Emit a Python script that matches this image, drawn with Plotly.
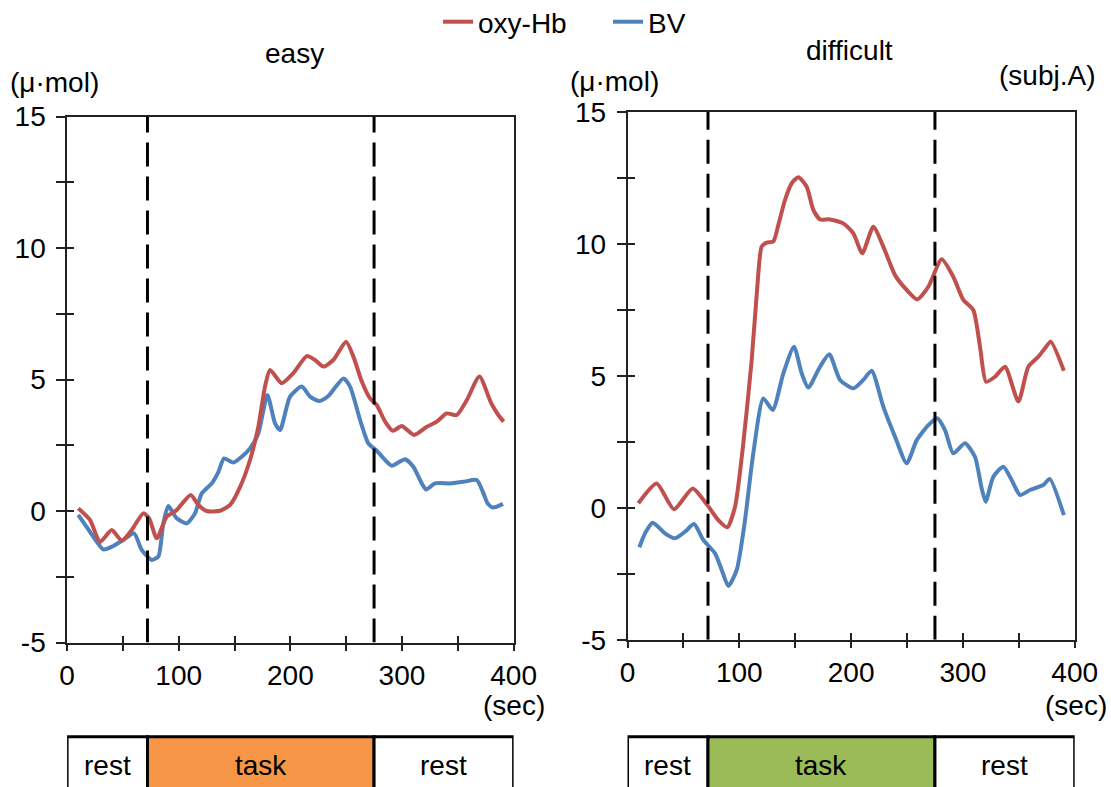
import plotly.graph_objects as go

# ---------------- data ----------------
easy_oxy_t = [10, 20.5, 29.5, 40, 48.9, 57.9, 68.3, 73.5, 80.3, 89.2, 98.2, 110.7, 117.6, 125, 137, 146, 155,
              163.9, 171.3, 177.3, 181.8, 192.3, 202.7, 214.7, 222.1, 229.6, 238.5, 249.9, 256.5, 264, 271.4,
              277.4, 284.9, 291.8, 299.8, 310.8, 322.2, 331.2, 340.1, 349.1, 358.1, 369.4, 379.9, 386.3, 391.1]
easy_oxy_v = [0.1, -0.34, -1.17, -0.72, -1.13, -0.72, -0.09, -0.28, -1.04, -0.22, 0.04, 0.61, 0.23, 0.0, 0.01,
              0.23, 0.92, 1.94, 3.2, 4.73, 5.36, 4.86, 5.24, 5.89, 5.74, 5.49, 5.74, 6.44, 5.87, 4.92, 4.28,
              4.03, 3.4, 3.05, 3.23, 2.89, 3.2, 3.4, 3.71, 3.65, 4.22, 5.11, 4.1, 3.65, 3.4]

easy_bv_t = [10, 20.5, 32.5, 41.4, 50.4, 60, 66.8, 75.8, 81.7, 86.2, 90.7, 98.2, 107.2, 114.6, 120.6, 129.6,
             135.6, 140.6, 148.9, 156.4, 163.9, 171.3, 179.4, 186.3, 190.8, 199.7, 210.2, 217.7, 226, 234,
             247.5, 253.5, 262.5, 269.9, 277.4, 284.9, 290.9, 302.8, 310.2, 317.7, 321.6, 329.7, 343.1, 355,
             367, 373, 376.7, 381.5, 390.5]
easy_bv_v = [-0.15, -0.79, -1.46, -1.33, -1.1, -0.85, -1.48, -1.86, -1.73, -0.47, 0.19, -0.28, -0.47, -0.09,
             0.67, 1.05, 1.49, 2.0, 1.84, 2.06, 2.38, 2.95, 4.41, 3.33, 3.08, 4.35, 4.73, 4.35, 4.18, 4.37,
             5.04, 4.73, 3.46, 2.57, 2.29, 1.94, 1.72, 1.97, 1.68, 1.05, 0.82, 1.05, 1.05, 1.11, 1.18, 0.67,
             0.29, 0.13, 0.27]

diff_oxy_t = [9.7, 26.1, 41.6, 58.3, 71.4, 81.2, 89.3, 96.2, 103.6, 111.1, 116.1, 120, 124.5, 130.4, 134.9,
              140.9, 146.9, 152.8, 160.3, 166.2, 172.2, 181.1, 193, 202, 210, 219.9, 228.8, 239.3, 249.7,
              259.2, 269.1, 281, 291.4, 300.4, 309.3, 315.3, 320.7, 328.7, 337.7, 349.6, 358.5, 367.5, 373.4,
              378.5, 390.3]
diff_oxy_v = [0.17, 0.92, -0.06, 0.73, 0.1, -0.47, -0.74, 0.04, 2.44, 5.6, 8.37, 9.89, 10.04, 10.08, 10.71,
              11.66, 12.29, 12.52, 12.16, 11.28, 10.92, 10.92, 10.77, 10.39, 9.64, 10.64, 9.89, 8.81, 8.25,
              7.89, 8.37, 9.41, 8.75, 7.87, 7.49, 6.1, 4.77, 4.96, 5.34, 4.02, 5.34, 5.72, 6.04, 6.29, 5.19]

diff_bv_t = [10.6, 15.7, 22.5, 33.5, 42.5, 51.4, 59.5, 67.8, 78.3, 84.3, 90.2, 97.7, 105.1, 112.5, 121.5,
             129.9, 139.4, 148.9, 155.8, 161.7, 172.2, 180.5, 190.1, 202, 210.9, 218.4, 228.8, 239.3, 249.7,
             258.7, 269.1, 277.1, 284, 291.4, 301.9, 310.8, 316.8, 320.4, 327.2, 336.1, 343.6, 351.1, 360,
             371.9, 377.6, 390.3]
diff_bv_v = [-1.5, -0.97, -0.57, -0.97, -1.16, -0.91, -0.62, -1.22, -1.73, -2.36, -2.97, -2.36, -0.47, 2.06,
             4.14, 3.7, 5.09, 6.1, 5.09, 4.55, 5.34, 5.81, 4.84, 4.52, 4.84, 5.19, 3.83, 2.69, 1.68, 2.56,
             3.13, 3.39, 2.94, 2.06, 2.44, 1.93, 0.73, 0.23, 1.17, 1.55, 1.05, 0.48, 0.67, 0.86, 1.09, -0.28]

panel_titles = ["easy", "difficult"]
series_names = ["oxy-Hb", "BV"]
phase_labels = ["rest", "task", "rest"]
phase_bounds = [0, 72, 275, 400]
task_colors = ["#F79646", "#9BBB59"]
x_ticks = [0, 50, 100, 150, 200, 250, 300, 350, 400]
x_ticktext = ["0", "", "100", "", "200", "", "300", "", "400"]
y_ticks = [-5, -2.5, 0, 2.5, 5, 7.5, 10, 12.5, 15]
y_ticktext = ["-5", "", "0", "", "5", "", "10", "", "15"]

RED = "#C0504D"
BLUE = "#4F81BD"
FONT = "Liberation Sans, Arial, sans-serif"
FS = 28
W, H = 1111, 787

fig = go.Figure()

panels = [
    dict(xa="x", ya="y", xo="x3", yo="y3", oxy=(easy_oxy_t, easy_oxy_v), bv=(easy_bv_t, easy_bv_v)),
    dict(xa="x2", ya="y2", xo="x4", yo="y4", oxy=(diff_oxy_t, diff_oxy_v), bv=(diff_bv_t, diff_bv_v)),
]

# oxy-Hb first (legend order), drawn on overlay axes so it sits on top of BV
for i, p in enumerate(panels):
    fig.add_trace(go.Scatter(x=p["oxy"][0], y=p["oxy"][1], mode="lines", name=series_names[0],
                             line=dict(color=RED, width=4, shape="spline", smoothing=0.6),
                             xaxis=p["xo"], yaxis=p["yo"], showlegend=(i == 0), legendgroup="oxy"))
for i, p in enumerate(panels):
    fig.add_trace(go.Scatter(x=p["bv"][0], y=p["bv"][1], mode="lines", name=series_names[1],
                             line=dict(color=BLUE, width=4, shape="spline", smoothing=0.6),
                             xaxis=p["xa"], yaxis=p["ya"], showlegend=(i == 0), legendgroup="bv"))

x_domains = [[67.1 / W, 513.6 / W], [627.5 / W, 1074.7 / W]]
y_domains = [[1 - 642.5 / H, 1 - 116.5 / H], [1 - 639.7 / H, 1 - 111.7 / H]]

AX = "#222222"
base_x = dict(range=[0, 400], tickmode="array", tickvals=x_ticks, showgrid=False, zeroline=False,
              tickfont=dict(family=FONT, size=FS, color="#000"), ticklen=7, tickwidth=1.5, tickcolor=AX)
base_y = dict(range=[-5, 15], tickmode="array", tickvals=y_ticks, showgrid=False, zeroline=False,
              tickfont=dict(family=FONT, size=FS, color="#000"), ticklen=9, tickwidth=1.5, tickcolor=AX)

layout = {}
for k, (xa, ya, xo, yo) in enumerate([("xaxis", "yaxis", "xaxis3", "yaxis3"),
                                       ("xaxis2", "yaxis2", "xaxis4", "yaxis4")]):
    xn = "x" if k == 0 else "x2"
    yn = "y" if k == 0 else "y2"
    layout[xa] = dict(base_x, domain=x_domains[k], anchor=yn, ticks="outside", ticktext=x_ticktext,
                      showline=True, linecolor=AX, linewidth=1.5, mirror=True, ticklabelstandoff=0)
    layout[ya] = dict(base_y, domain=y_domains[k], anchor=xn, ticks="outside", ticktext=y_ticktext,
                      showline=True, linecolor=AX, linewidth=1.5, mirror=True, ticklabelstandoff=5)
    layout[xo] = dict(base_x, overlaying=xn, anchor="y3" if k == 0 else "y4", side="bottom",
                      ticks="inside", showticklabels=False, showline=False)
    layout[yo] = dict(base_y, overlaying=yn, anchor="x3" if k == 0 else "x4", side="left",
                      ticks="inside", ticklen=7, showticklabels=False, showline=False)

fig.update_layout(**layout)

shapes = []
annotations = []
for k, xn in enumerate(["x", "x2"]):
    # dashed task onset/offset lines
    for b in phase_bounds[1:3]:
        shapes.append(dict(type="line", xref=xn, yref="y" if k == 0 else "y2", x0=b, x1=b, y0=-5, y1=15,
                           line=dict(color="#000", width=3, dash="24px,10px")))
    # rest/task/rest bar
    for j in range(3):
        shapes.append(dict(type="rect", xref=xn, yref="paper", x0=phase_bounds[j], x1=phase_bounds[j + 1],
                           y0=-0.08, y1=1 - 736.7 / H,
                           fillcolor=task_colors[k] if j == 1 else "white",
                           line=dict(color="#000", width=3), layer="above"))
        annotations.append(dict(xref=xn, yref="paper", x=(phase_bounds[j] + phase_bounds[j + 1]) / 2,
                                y=1 - 765 / H, text=phase_labels[j], showarrow=False,
                                font=dict(family=FONT, size=FS, color="#000"),
                                xanchor="center", yanchor="middle"))

def txt(x, y, s):
    annotations.append(dict(xref="paper", yref="paper", x=x / W, y=1 - y / H, text=s, showarrow=False,
                            font=dict(family=FONT, size=FS, color="#000"), xanchor="center", yanchor="middle"))

txt(294, 53, panel_titles[0])
txt(849, 51, panel_titles[1])
txt(54, 83, "(μ·mol)")
txt(614, 81, "(μ·mol)")
txt(1047, 75, "(subj.A)")
txt(514, 705, "(sec)")
txt(1076, 705, "(sec)")

fig.update_layout(
    width=W, height=H, margin=dict(l=0, r=0, t=0, b=0, autoexpand=False),
    paper_bgcolor="white", plot_bgcolor="white",
    shapes=shapes, annotations=annotations,
    showlegend=True,
    legend=dict(orientation="h", x=438 / W, y=1 - 22 / H, xanchor="left", yanchor="middle",
                font=dict(family=FONT, size=FS, color="#000"), bgcolor="rgba(0,0,0,0)",
                entrywidth=125, entrywidthmode="pixels", itemwidth=30, tracegroupgap=0),
)

fig.write_html("out.html", config={"displayModeBar": False},
               post_script="document.body.style.margin='0';document.body.style.padding='0';")
